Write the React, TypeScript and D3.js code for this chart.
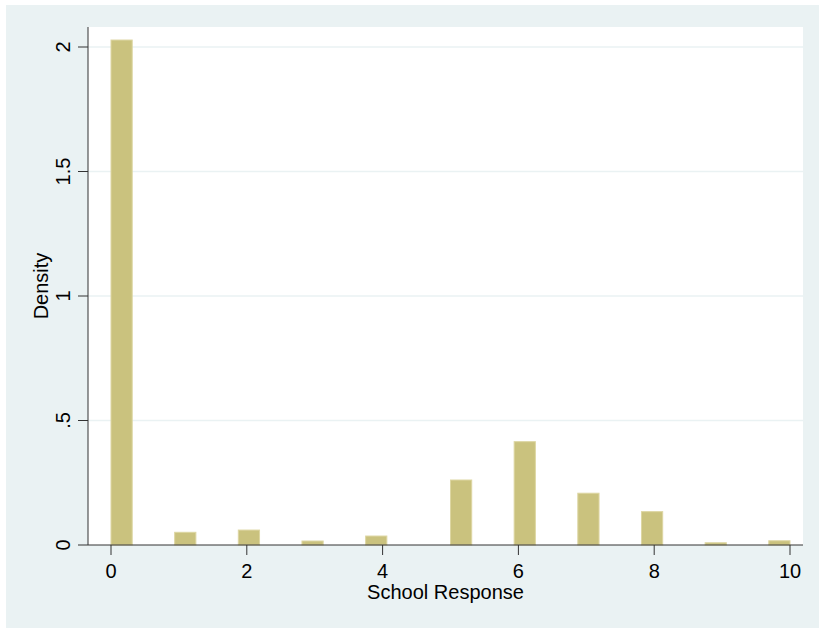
import React, { useEffect } from 'react';
import * as d3 from 'd3';

// histogram of school response, 32 bins over [0, 10]
const responses = [0, 1, 2, 3, 4, 5, 6, 7, 8, 9, 10];
const densities = [2.028, 0.051, 0.06, 0.016, 0.036, 0.261, 0.415, 0.208, 0.134, 0.009, 0.017];
const binCount = 32;
const xTicks = [0, 2, 4, 6, 8, 10];
const yTicks = [0, 0.5, 1, 1.5, 2];
const yTickLabels = ['0', '.5', '1', '1.5', '2'];

// drawn a bit larger than the window so the panel runs off the edges
const W = 900;
const H = 700;
const plot = { left: 88, right: 803, top: 27, bottom: 545 };
const font = '"Liberation Sans", Arial, sans-serif';
const panelColor = '#EAF2F3';

export default function App() {
  useEffect(() => {
    // page background matches the outer panel
    document.documentElement.style.background = panelColor;
    document.body.style.background = panelColor;
  }, []);

  const x = d3.scaleLinear().domain([0, 10]).range([111, 790]);
  const y = d3.scaleLinear().domain([0, 2]).range([plot.bottom, 47]);
  const binW = 10 / binCount;

  const bars = responses.map((v, i) => {
    const bin = Math.min(Math.floor(v / binW), binCount - 1);
    return { x0: bin * binW, x1: (bin + 1) * binW, d: densities[i] };
  });

  return (
    <svg
      width={W}
      height={H}
      style={{ position: 'fixed', left: 0, top: 0, background: '#fff' }}
    >
      {/* outer panel */}
      <rect x={6} y={5} width={W - 6} height={H - 5} fill={panelColor} />
      {/* plot region */}
      <rect
        x={plot.left}
        y={plot.top}
        width={plot.right - plot.left}
        height={plot.bottom - plot.top}
        fill="#fff"
      />

      {/* grid */}
      {yTicks.slice(1).map((t) => (
        <line
          key={'g' + t}
          x1={plot.left}
          x2={plot.right}
          y1={y(t)}
          y2={y(t)}
          stroke={panelColor}
          strokeWidth={1.5}
        />
      ))}

      {/* bars */}
      {bars.map((b, i) => (
        <rect
          key={i}
          x={x(b.x0)}
          y={y(b.d)}
          width={x(b.x1) - x(b.x0)}
          height={y(0) - y(b.d)}
          fill="#CAC27E"
          stroke="#DDD6A2"
          strokeWidth={1}
        />
      ))}

      {/* y axis */}
      <line x1={plot.left} x2={plot.left} y1={plot.top} y2={plot.bottom} stroke="#333" strokeWidth={1} />
      {yTicks.map((t, i) => (
        <g key={'y' + t}>
          <line x1={78} x2={plot.left} y1={y(t)} y2={y(t)} stroke="#333" strokeWidth={1} />
          <text
            transform={`translate(70,${y(t)}) rotate(-90)`}
            textAnchor="middle"
            fontFamily={font}
            fontSize={20}
            fill="#000"
          >
            {yTickLabels[i]}
          </text>
        </g>
      ))}
      <text
        transform={`translate(47.5,${(plot.top + plot.bottom) / 2}) rotate(-90)`}
        textAnchor="middle"
        fontFamily={font}
        fontSize={20}
        fill="#000"
      >
        Density
      </text>

      {/* x axis */}
      <line x1={plot.left} x2={plot.right} y1={plot.bottom} y2={plot.bottom} stroke="#333" strokeWidth={1} />
      {xTicks.map((t) => (
        <g key={'x' + t}>
          <line x1={x(t)} x2={x(t)} y1={plot.bottom} y2={555} stroke="#333" strokeWidth={1} />
          <text x={x(t)} y={578} textAnchor="middle" fontFamily={font} fontSize={20} fill="#000">
            {t}
          </text>
        </g>
      ))}
      <text
        x={(plot.left + plot.right) / 2}
        y={599}
        textAnchor="middle"
        fontFamily={font}
        fontSize={20}
        fill="#000"
      >
        School Response
      </text>
    </svg>
  );
}
